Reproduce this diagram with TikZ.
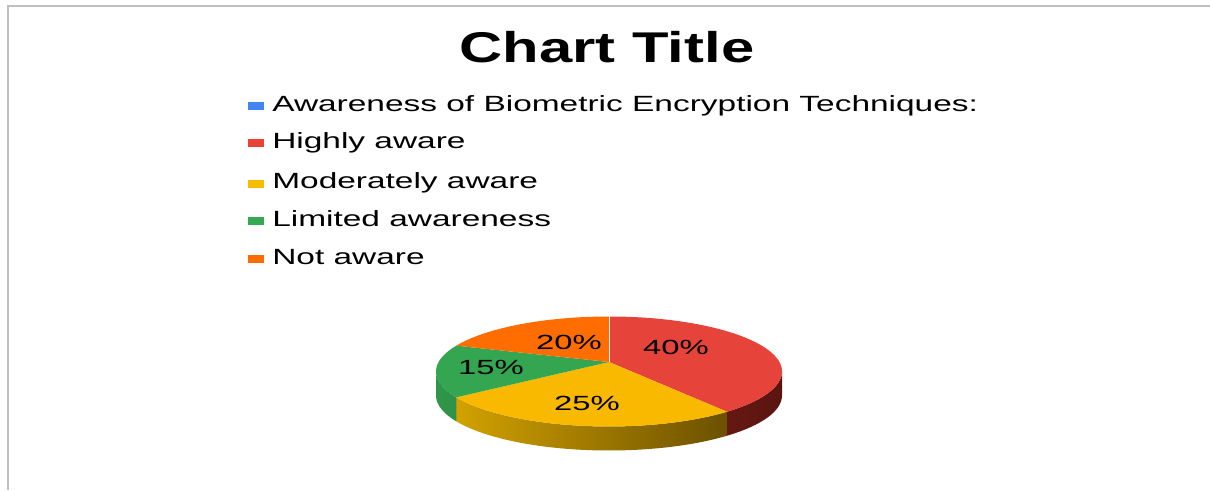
\documentclass[tikz,border=0pt]{standalone}
\usepackage{fontspec}
\usetikzlibrary{calc}
\setmainfont{Liberation Sans}
\definecolor{lblue}{HTML}{4285F4}
\definecolor{lred}{HTML}{EA4335}
\definecolor{lyellow}{HTML}{FBBC04}
\definecolor{lgreen}{HTML}{34A853}
\definecolor{lorange}{HTML}{FF6D01}
\definecolor{pred}{HTML}{E6433A}
\definecolor{pyellow}{HTML}{F8B900}
\definecolor{pgreen}{HTML}{34A550}
\definecolor{porange}{HTML}{FF6D00}
\definecolor{framegray}{HTML}{BFBFBF}
\definecolor{redsideA}{HTML}{7E2118}
\definecolor{redsideB}{HTML}{5A1410}
\definecolor{yelsideA}{HTML}{D2A200}
\definecolor{yelsideB}{HTML}{6C5000}
\definecolor{grnsideA}{HTML}{2F9648}
\definecolor{grnsideB}{HTML}{237A38}
\begin{document}
\begin{tikzpicture}[x=1pt,y=1pt,
  legsq/.style={fill=#1,draw=none,minimum width=16pt,minimum height=8pt,inner sep=0pt},
  legtxt/.style={anchor=base west,inner sep=0pt,font=\fontsize{22}{26}\selectfont,xscale=1.52},
  pct/.style={inner sep=0pt,font=\fontsize{20.5}{25}\selectfont,xscale=1.6},
  slice/.style={fill=#1,draw=none}]
\useasboundingbox (0,0) rectangle (1210,490);
\fill[white] (0,0) rectangle (1210,490);
% frame
\draw[framegray,line width=1.6pt] (8,0) -- (8,484) -- (1210,484);
% title
\node[anchor=base,inner sep=0pt,font=\fontsize{43}{50}\selectfont\bfseries,xscale=1.39] (title) at (607,427) {Chart Title};
% legend
\node[legsq=lblue]   (s1) at (256,384) {};
\node[legsq=lred]    (s2) at (256,347) {};
\node[legsq=lyellow] (s3) at (256,306) {};
\node[legsq=lgreen]  (s4) at (256,269) {};
\node[legsq=lorange] (s5) at (256,231) {};
\node[legtxt] (t1) at (272,378) {Awareness of Biometric Encryption Techniques:};
\node[legtxt] (t2) at (272,341) {Highly aware};
\node[legtxt] (t3) at (272,301) {Moderately aware};
\node[legtxt] (t4) at (272,263) {Limited awareness};
\node[legtxt] (t5) at (272,225) {Not aware};
% pie
\coordinate (E) at (609,118.5);
\coordinate (V) at (609,128);
\def\rx{173}\def\ry{55}\def\th{24}
% sides
\shade[left color=redsideA,right color=redsideB] (E) ++(-47:\rx pt and \ry pt) arc[start angle=-47,end angle=0,x radius=\rx,y radius=\ry] -- ++(0,-\th) arc[start angle=0,end angle=-47,x radius=\rx,y radius=\ry] -- cycle;
\shade[left color=yelsideA,right color=yelsideB] (E) ++(-152:\rx pt and \ry pt) arc[start angle=-152,end angle=-47,x radius=\rx,y radius=\ry] -- ++(0,-\th) arc[start angle=-47,end angle=-152,x radius=\rx,y radius=\ry] -- cycle;
\shade[left color=grnsideA,right color=grnsideB] (E) ++(-180:\rx pt and \ry pt) arc[start angle=-180,end angle=-152,x radius=\rx,y radius=\ry] -- ++(0,-\th) arc[start angle=-152,end angle=-180,x radius=\rx,y radius=\ry] -- cycle;
% top
\path[slice=pred] (V) -- ($(E)+(90:\rx pt and \ry pt)$) arc[start angle=90,end angle=-47,x radius=\rx,y radius=\ry] -- cycle;
\path[slice=pyellow] (V) -- ($(E)+(-47:\rx pt and \ry pt)$) arc[start angle=-47,end angle=-152,x radius=\rx,y radius=\ry] -- cycle;
\path[slice=pgreen] (V) -- ($(E)+(-152:\rx pt and \ry pt)$) arc[start angle=-152,end angle=-208,x radius=\rx,y radius=\ry] -- cycle;
\path[slice=porange] (V) -- ($(E)+(152:\rx pt and \ry pt)$) arc[start angle=152,end angle=90,x radius=\rx,y radius=\ry] -- cycle;
\draw[white,line width=0.6pt] (V) -- ($(E)+(90:\rx pt and \ry pt)$);
% labels
\node[pct] (p40) at (676,143) {40\%};
\node[pct] (p20) at (569,148) {20\%};
\node[pct] (p15) at (491,123) {15\%};
\node[pct] (p25) at (587,87) {25\%};
\end{tikzpicture}
\end{document}
